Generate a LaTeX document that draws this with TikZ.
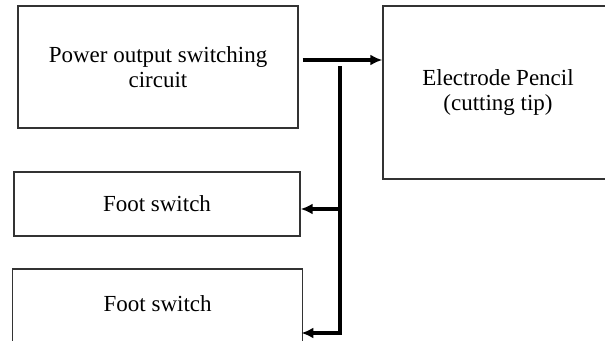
\documentclass[tikz,border=0pt]{standalone}
\usepackage{fontspec}
\setmainfont{Liberation Serif}
\usetikzlibrary{arrows.meta}
\begin{document}
\begin{tikzpicture}[x=1pt,y=-1pt,
  blk/.style={draw=black!80,line width=1.4pt,rectangle,inner sep=0pt,align=center,
    font=\fontsize{23}{25}\selectfont},
  arr/.style={line width=3.2pt,-{Latex[length=12pt,width=11pt]}},
  wire/.style={line width=3.2pt}]
\useasboundingbox (0,0) rectangle (605,340);
\node[blk,minimum width=280pt,minimum height=122pt] (pw) at (158,67) {Power output switching\\circuit};
\node[blk,minimum width=230pt,minimum height=173pt] (ep) at (498,92.5) {Electrode Pencil\\(cutting tip)};
\node[blk,minimum width=286pt,minimum height=64pt] (f1) at (157,204) {Foot switch};
\node[blk,minimum width=290pt,minimum height=74pt,text depth=0pt] (f2) at (157.7,306) {\raisebox{5pt}{Foot switch}};
\coordinate (s) at ([xshift=4pt,yshift=7pt]pw.east);
\draw[arr] (s) -- (s -| ep.west);
\coordinate (vt) at (340,68);
\coordinate (vb) at (340,333);
\draw[wire,line cap=rect] (vt) -- (vb);
\draw[arr] (vt |- 0,209) -- (f1.east |- 0,209);
\draw[arr] (vb) -- ([xshift=-2pt]f2.east |- vb);
\end{tikzpicture}
\end{document}
